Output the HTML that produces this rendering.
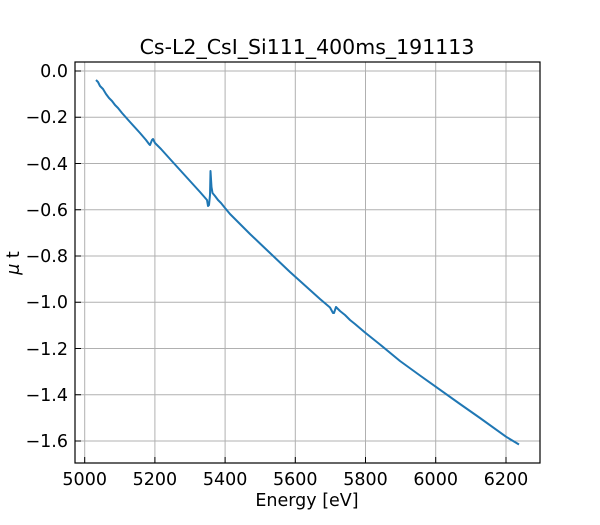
<!DOCTYPE html>
<html><head><style>body{margin:0;background:#fff}</style></head><body>
<svg width="600" height="520" xmlns="http://www.w3.org/2000/svg" font-family="DejaVu Sans, sans-serif">
<rect width="600" height="520" fill="#fff"/>
<g stroke="#b0b0b0" stroke-width="1">
<line x1="84.7" y1="62" x2="84.7" y2="463"/><line x1="154.9" y1="62" x2="154.9" y2="463"/><line x1="225.1" y1="62" x2="225.1" y2="463"/><line x1="295.3" y1="62" x2="295.3" y2="463"/><line x1="365.5" y1="62" x2="365.5" y2="463"/><line x1="435.7" y1="62" x2="435.7" y2="463"/><line x1="506" y1="62" x2="506" y2="463"/>
<line x1="75" y1="71" x2="540" y2="71"/><line x1="75" y1="117.25" x2="540" y2="117.25"/><line x1="75" y1="163.5" x2="540" y2="163.5"/><line x1="75" y1="209.75" x2="540" y2="209.75"/><line x1="75" y1="256" x2="540" y2="256"/><line x1="75" y1="302.25" x2="540" y2="302.25"/><line x1="75" y1="348.5" x2="540" y2="348.5"/><line x1="75" y1="394.75" x2="540" y2="394.75"/><line x1="75" y1="441" x2="540" y2="441"/>
</g>
<polyline fill="none" stroke="#1f77b4" stroke-width="2" stroke-linejoin="round" points="96,80 98,82 100,86 103,89 106,94 109,98 112,101 115,105 118,108 122,113 130,122 140,133 146,140 149,144 150,145 152,140 153,139 155,143 158,146 161,149 170,159 180,170 190,181 200,192 207,200 208,206 209,205 210,195 210.5,171 211.5,187 212.5,193 215,196 218,200 221,203 225,208 230,214 240,224 250,234 260,243.5 270,253 280,262.5 290,272 300,281 310,290 320,299 330,307.5 333,313 334,313 336,307 340,311 345,315 350,320 355,324 365,332.5 380,344.5 400,361 420,375.5 435.7,386.7 460,404 480,418 506,436.7 519,444.5"/>
<rect x="75" y="62" width="465" height="401" fill="none" stroke="#000" stroke-width="1.2"/>
<g stroke="#000" stroke-width="1">
<line x1="84.7" y1="463" x2="84.7" y2="457"/><line x1="154.9" y1="463" x2="154.9" y2="457"/><line x1="225.1" y1="463" x2="225.1" y2="457"/><line x1="295.3" y1="463" x2="295.3" y2="457"/><line x1="365.5" y1="463" x2="365.5" y2="457"/><line x1="435.7" y1="463" x2="435.7" y2="457"/><line x1="506" y1="463" x2="506" y2="457"/>
<line x1="75" y1="71" x2="81" y2="71"/><line x1="75" y1="117.25" x2="81" y2="117.25"/><line x1="75" y1="163.5" x2="81" y2="163.5"/><line x1="75" y1="209.75" x2="81" y2="209.75"/><line x1="75" y1="256" x2="81" y2="256"/><line x1="75" y1="302.25" x2="81" y2="302.25"/><line x1="75" y1="348.5" x2="81" y2="348.5"/><line x1="75" y1="394.75" x2="81" y2="394.75"/><line x1="75" y1="441" x2="81" y2="441"/>
</g>
<g font-size="17.5" fill="#000" text-anchor="middle">
<text x="84.7" y="485">5000</text><text x="154.9" y="485">5200</text><text x="225.1" y="485">5400</text><text x="295.3" y="485">5600</text><text x="365.5" y="485">5800</text><text x="435.7" y="485">6000</text><text x="506" y="485">6200</text>
<text x="307" y="506">Energy [eV]</text>
<text x="307" y="54" font-size="20.5">Cs-L2_CsI_Si111_400ms_191113</text>
</g>
<g font-size="17.5" fill="#000" text-anchor="end">
<text x="68" y="77">0.0</text><text x="68" y="123">−0.2</text><text x="68" y="170">−0.4</text><text x="68" y="216">−0.6</text><text x="68" y="262">−0.8</text><text x="68" y="308">−1.0</text><text x="68" y="355">−1.2</text><text x="68" y="401">−1.4</text><text x="68" y="447">−1.6</text>
</g>
<text transform="translate(19,263) rotate(-90)" font-size="17.5" text-anchor="middle"><tspan font-style="italic">μ</tspan> t</text>
</svg>
</body></html>
